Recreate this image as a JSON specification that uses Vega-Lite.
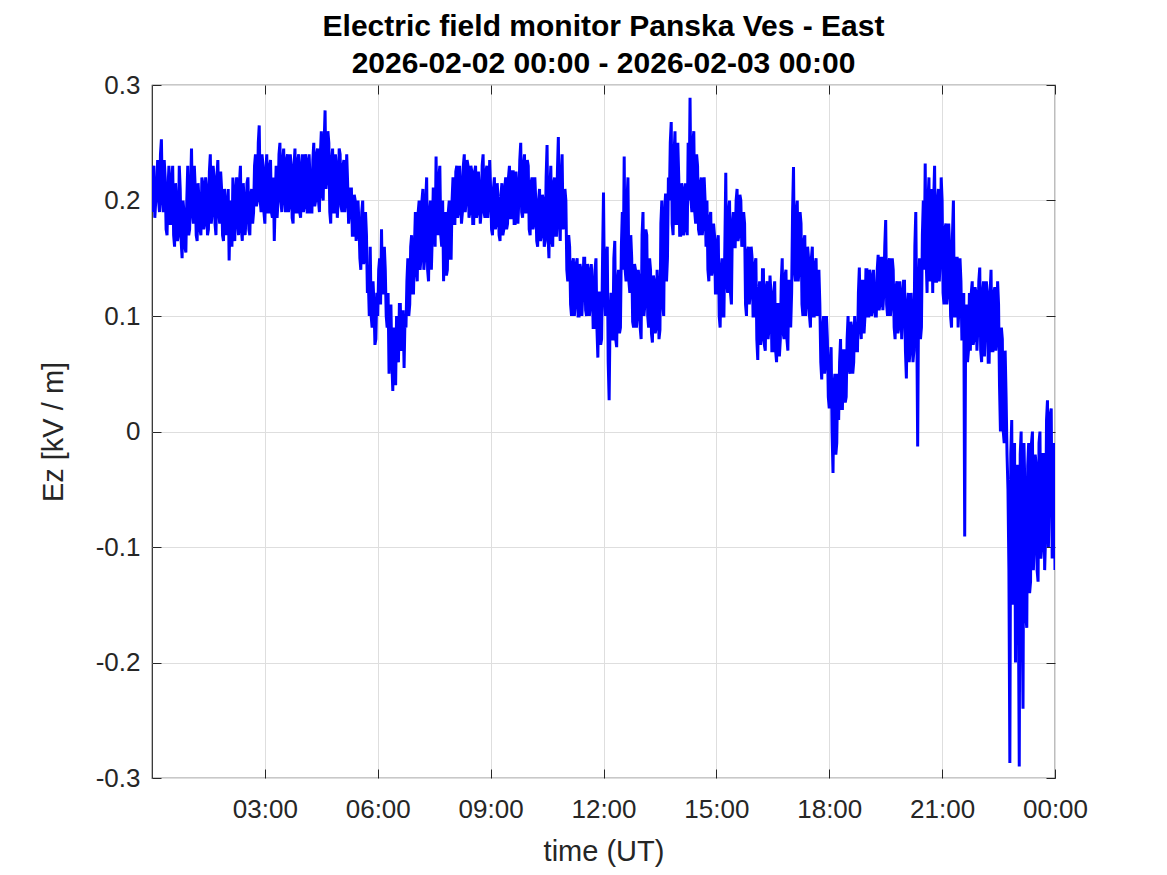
{
"$schema": "https://vega.github.io/schema/vega-lite/v6.json",
"width": 903,
"height": 693,
"autosize": {"type": "none"},
"padding": {"left": 152, "top": 85, "right": 112, "bottom": 97},
"background": "white",
"title": {"text": ["Electric field monitor Panska Ves - East", "2026-02-02 00:00 - 2026-02-03 00:00"], "font": "Liberation Sans", "fontSize": 30, "fontWeight": "bold", "color": "black", "anchor": "middle", "frame": "group", "lineHeight": 37, "offset": -7},
"config": {
  "view": {"stroke": "#262626", "strokeWidth": 1.2},
  "axis": {"domain": false, "grid": true, "gridColor": "#dedede", "gridWidth": 1, "tickColor": "#262626", "tickSize": -9, "tickWidth": 1, "labelFont": "Liberation Sans", "labelFontSize": 26, "labelColor": "#262626", "titleFont": "Liberation Sans", "titleFontSize": 29, "titleFontWeight": "normal", "titleColor": "#262626"}
},
"data": {"values": [
{"t":0,"v":0.19},{"t":0.025,"v":0.225},{"t":0.05,"v":0.23},{"t":0.075,"v":0.185},{"t":0.1,"v":0.2},{"t":0.125,"v":0.21},{"t":0.15,"v":0.235},{"t":0.175,"v":0.2},{"t":0.2,"v":0.19},{"t":0.225,"v":0.24},
{"t":0.25,"v":0.253},{"t":0.275,"v":0.2},{"t":0.3,"v":0.19},{"t":0.325,"v":0.235},{"t":0.35,"v":0.22},{"t":0.375,"v":0.175},{"t":0.4,"v":0.17},{"t":0.425,"v":0.21},{"t":0.45,"v":0.23},{"t":0.475,"v":0.18},
{"t":0.5,"v":0.18},{"t":0.525,"v":0.22},{"t":0.55,"v":0.23},{"t":0.575,"v":0.17},{"t":0.6,"v":0.16},{"t":0.625,"v":0.215},{"t":0.65,"v":0.2},{"t":0.675,"v":0.165},{"t":0.7,"v":0.17},{"t":0.725,"v":0.23},
{"t":0.75,"v":0.21},{"t":0.775,"v":0.165},{"t":0.8,"v":0.15},{"t":0.825,"v":0.2},{"t":0.85,"v":0.19},{"t":0.875,"v":0.16},{"t":0.9,"v":0.155},{"t":0.925,"v":0.2},{"t":0.95,"v":0.23},{"t":0.975,"v":0.17},
{"t":1,"v":0.175},{"t":1.025,"v":0.21},{"t":1.05,"v":0.245},{"t":1.075,"v":0.19},{"t":1.1,"v":0.18},{"t":1.125,"v":0.23},{"t":1.15,"v":0.21},{"t":1.175,"v":0.17},{"t":1.2,"v":0.165},{"t":1.225,"v":0.215},
{"t":1.25,"v":0.2},{"t":1.275,"v":0.175},{"t":1.3,"v":0.17},{"t":1.325,"v":0.22},{"t":1.35,"v":0.215},{"t":1.375,"v":0.175},{"t":1.4,"v":0.18},{"t":1.425,"v":0.22},{"t":1.45,"v":0.21},{"t":1.475,"v":0.17},
{"t":1.5,"v":0.175},{"t":1.525,"v":0.225},{"t":1.55,"v":0.24},{"t":1.575,"v":0.18},{"t":1.6,"v":0.19},{"t":1.625,"v":0.23},{"t":1.65,"v":0.22},{"t":1.675,"v":0.18},{"t":1.7,"v":0.17},{"t":1.725,"v":0.22},
{"t":1.75,"v":0.235},{"t":1.775,"v":0.19},{"t":1.8,"v":0.18},{"t":1.825,"v":0.225},{"t":1.85,"v":0.21},{"t":1.875,"v":0.17},{"t":1.9,"v":0.165},{"t":1.925,"v":0.21},{"t":1.95,"v":0.2},{"t":1.975,"v":0.17},
{"t":2,"v":0.18},{"t":2.025,"v":0.21},{"t":2.05,"v":0.148},{"t":2.075,"v":0.19},{"t":2.1,"v":0.2},{"t":2.125,"v":0.16},{"t":2.15,"v":0.22},{"t":2.175,"v":0.17},{"t":2.2,"v":0.165},{"t":2.225,"v":0.21},
{"t":2.25,"v":0.22},{"t":2.275,"v":0.18},{"t":2.3,"v":0.17},{"t":2.325,"v":0.215},{"t":2.35,"v":0.23},{"t":2.375,"v":0.175},{"t":2.4,"v":0.165},{"t":2.425,"v":0.215},{"t":2.45,"v":0.2},{"t":2.475,"v":0.17},
{"t":2.5,"v":0.185},{"t":2.525,"v":0.215},{"t":2.55,"v":0.22},{"t":2.575,"v":0.175},{"t":2.6,"v":0.17},{"t":2.625,"v":0.205},{"t":2.65,"v":0.21},{"t":2.675,"v":0.18},{"t":2.7,"v":0.19},{"t":2.725,"v":0.23},
{"t":2.75,"v":0.24},{"t":2.775,"v":0.195},{"t":2.8,"v":0.2},{"t":2.825,"v":0.25},{"t":2.85,"v":0.265},{"t":2.875,"v":0.2},{"t":2.9,"v":0.19},{"t":2.925,"v":0.24},{"t":2.95,"v":0.23},{"t":2.975,"v":0.19},
{"t":3,"v":0.18},{"t":3.025,"v":0.225},{"t":3.05,"v":0.24},{"t":3.075,"v":0.19},{"t":3.1,"v":0.19},{"t":3.125,"v":0.23},{"t":3.15,"v":0.235},{"t":3.175,"v":0.19},{"t":3.2,"v":0.185},{"t":3.225,"v":0.22},
{"t":3.25,"v":0.165},{"t":3.275,"v":0.2},{"t":3.3,"v":0.23},{"t":3.325,"v":0.185},{"t":3.35,"v":0.2},{"t":3.375,"v":0.24},{"t":3.4,"v":0.25},{"t":3.425,"v":0.2},{"t":3.45,"v":0.19},{"t":3.475,"v":0.235},
{"t":3.5,"v":0.245},{"t":3.525,"v":0.2},{"t":3.55,"v":0.19},{"t":3.575,"v":0.235},{"t":3.6,"v":0.24},{"t":3.625,"v":0.19},{"t":3.65,"v":0.195},{"t":3.675,"v":0.24},{"t":3.7,"v":0.23},{"t":3.725,"v":0.185},
{"t":3.75,"v":0.18},{"t":3.775,"v":0.23},{"t":3.8,"v":0.245},{"t":3.825,"v":0.19},{"t":3.85,"v":0.19},{"t":3.875,"v":0.235},{"t":3.9,"v":0.24},{"t":3.925,"v":0.19},{"t":3.95,"v":0.185},{"t":3.975,"v":0.23},
{"t":4,"v":0.24},{"t":4.025,"v":0.19},{"t":4.05,"v":0.195},{"t":4.075,"v":0.24},{"t":4.1,"v":0.235},{"t":4.125,"v":0.19},{"t":4.15,"v":0.19},{"t":4.175,"v":0.24},{"t":4.2,"v":0.22},{"t":4.225,"v":0.19},
{"t":4.25,"v":0.19},{"t":4.275,"v":0.235},{"t":4.3,"v":0.25},{"t":4.325,"v":0.195},{"t":4.35,"v":0.2},{"t":4.375,"v":0.24},{"t":4.4,"v":0.245},{"t":4.425,"v":0.2},{"t":4.45,"v":0.19},{"t":4.475,"v":0.24},
{"t":4.5,"v":0.26},{"t":4.525,"v":0.205},{"t":4.55,"v":0.2},{"t":4.575,"v":0.25},{"t":4.6,"v":0.278},{"t":4.625,"v":0.21},{"t":4.65,"v":0.22},{"t":4.675,"v":0.26},{"t":4.7,"v":0.25},{"t":4.725,"v":0.19},
{"t":4.75,"v":0.18},{"t":4.775,"v":0.235},{"t":4.8,"v":0.245},{"t":4.825,"v":0.19},{"t":4.85,"v":0.19},{"t":4.875,"v":0.24},{"t":4.9,"v":0.23},{"t":4.925,"v":0.185},{"t":4.95,"v":0.2},{"t":4.975,"v":0.245},
{"t":5,"v":0.24},{"t":5.025,"v":0.195},{"t":5.05,"v":0.19},{"t":5.075,"v":0.23},{"t":5.1,"v":0.235},{"t":5.125,"v":0.19},{"t":5.15,"v":0.2},{"t":5.175,"v":0.24},{"t":5.2,"v":0.215},{"t":5.225,"v":0.18},
{"t":5.25,"v":0.19},{"t":5.275,"v":0.21},{"t":5.3,"v":0.21},{"t":5.325,"v":0.17},{"t":5.35,"v":0.17},{"t":5.375,"v":0.205},{"t":5.4,"v":0.2},{"t":5.425,"v":0.165},{"t":5.45,"v":0.175},{"t":5.475,"v":0.2},
{"t":5.5,"v":0.18},{"t":5.525,"v":0.15},{"t":5.55,"v":0.14},{"t":5.575,"v":0.19},{"t":5.6,"v":0.2},{"t":5.625,"v":0.145},{"t":5.65,"v":0.15},{"t":5.675,"v":0.19},{"t":5.7,"v":0.17},{"t":5.725,"v":0.12},
{"t":5.75,"v":0.13},{"t":5.775,"v":0.1},{"t":5.8,"v":0.16},{"t":5.825,"v":0.1},{"t":5.85,"v":0.09},{"t":5.875,"v":0.13},{"t":5.9,"v":0.11},{"t":5.925,"v":0.075},{"t":5.95,"v":0.08},{"t":5.975,"v":0.12},
{"t":6,"v":0.1},{"t":6.025,"v":0.14},{"t":6.05,"v":0.15},{"t":6.075,"v":0.11},{"t":6.1,"v":0.175},{"t":6.125,"v":0.12},{"t":6.15,"v":0.12},{"t":6.175,"v":0.16},{"t":6.2,"v":0.14},{"t":6.225,"v":0.1},
{"t":6.25,"v":0.09},{"t":6.275,"v":0.12},{"t":6.3,"v":0.05},{"t":6.325,"v":0.1},{"t":6.35,"v":0.11},{"t":6.375,"v":0.06},{"t":6.4,"v":0.035},{"t":6.425,"v":0.09},{"t":6.45,"v":0.08},{"t":6.475,"v":0.04},
{"t":6.5,"v":0.1},{"t":6.525,"v":0.065},{"t":6.55,"v":0.06},{"t":6.575,"v":0.11},{"t":6.6,"v":0.11},{"t":6.625,"v":0.07},{"t":6.65,"v":0.075},{"t":6.675,"v":0.105},{"t":6.7,"v":0.055},{"t":6.725,"v":0.1},
{"t":6.75,"v":0.09},{"t":6.775,"v":0.13},{"t":6.8,"v":0.15},{"t":6.825,"v":0.1},{"t":6.85,"v":0.11},{"t":6.875,"v":0.16},{"t":6.9,"v":0.17},{"t":6.925,"v":0.12},{"t":6.95,"v":0.12},{"t":6.975,"v":0.16},
{"t":7,"v":0.19},{"t":7.025,"v":0.14},{"t":7.05,"v":0.13},{"t":7.075,"v":0.19},{"t":7.1,"v":0.2},{"t":7.125,"v":0.14},{"t":7.15,"v":0.15},{"t":7.175,"v":0.2},{"t":7.2,"v":0.21},{"t":7.225,"v":0.14},
{"t":7.25,"v":0.15},{"t":7.275,"v":0.2},{"t":7.3,"v":0.22},{"t":7.325,"v":0.14},{"t":7.35,"v":0.13},{"t":7.375,"v":0.19},{"t":7.4,"v":0.2},{"t":7.425,"v":0.14},{"t":7.45,"v":0.17},{"t":7.475,"v":0.21},
{"t":7.5,"v":0.21},{"t":7.525,"v":0.16},{"t":7.55,"v":0.238},{"t":7.575,"v":0.18},{"t":7.6,"v":0.17},{"t":7.625,"v":0.22},{"t":7.65,"v":0.23},{"t":7.675,"v":0.17},{"t":7.7,"v":0.16},{"t":7.725,"v":0.2},
{"t":7.75,"v":0.13},{"t":7.775,"v":0.18},{"t":7.8,"v":0.19},{"t":7.825,"v":0.135},{"t":7.85,"v":0.14},{"t":7.875,"v":0.19},{"t":7.9,"v":0.2},{"t":7.925,"v":0.15},{"t":7.95,"v":0.15},{"t":7.975,"v":0.2},
{"t":8,"v":0.22},{"t":8.025,"v":0.18},{"t":8.05,"v":0.18},{"t":8.075,"v":0.225},{"t":8.1,"v":0.23},{"t":8.125,"v":0.185},{"t":8.15,"v":0.19},{"t":8.175,"v":0.23},{"t":8.2,"v":0.215},{"t":8.225,"v":0.18},
{"t":8.25,"v":0.19},{"t":8.275,"v":0.23},{"t":8.3,"v":0.24},{"t":8.325,"v":0.19},{"t":8.35,"v":0.2},{"t":8.375,"v":0.235},{"t":8.4,"v":0.23},{"t":8.425,"v":0.185},{"t":8.45,"v":0.19},{"t":8.475,"v":0.23},
{"t":8.5,"v":0.225},{"t":8.525,"v":0.18},{"t":8.55,"v":0.18},{"t":8.575,"v":0.225},{"t":8.6,"v":0.23},{"t":8.625,"v":0.185},{"t":8.65,"v":0.19},{"t":8.675,"v":0.225},{"t":8.7,"v":0.21},{"t":8.725,"v":0.18},
{"t":8.75,"v":0.19},{"t":8.775,"v":0.23},{"t":8.8,"v":0.24},{"t":8.825,"v":0.19},{"t":8.85,"v":0.185},{"t":8.875,"v":0.225},{"t":8.9,"v":0.23},{"t":8.925,"v":0.185},{"t":8.95,"v":0.2},{"t":8.975,"v":0.235},
{"t":9,"v":0.21},{"t":9.025,"v":0.175},{"t":9.05,"v":0.17},{"t":9.075,"v":0.21},{"t":9.1,"v":0.22},{"t":9.125,"v":0.175},{"t":9.15,"v":0.18},{"t":9.175,"v":0.215},{"t":9.2,"v":0.2},{"t":9.225,"v":0.17},
{"t":9.25,"v":0.165},{"t":9.275,"v":0.205},{"t":9.3,"v":0.215},{"t":9.325,"v":0.17},{"t":9.35,"v":0.175},{"t":9.375,"v":0.21},{"t":9.4,"v":0.22},{"t":9.425,"v":0.175},{"t":9.45,"v":0.18},{"t":9.475,"v":0.22},
{"t":9.5,"v":0.23},{"t":9.525,"v":0.185},{"t":9.55,"v":0.185},{"t":9.575,"v":0.225},{"t":9.6,"v":0.225},{"t":9.625,"v":0.18},{"t":9.65,"v":0.18},{"t":9.675,"v":0.225},{"t":9.7,"v":0.21},{"t":9.725,"v":0.18},
{"t":9.75,"v":0.2},{"t":9.775,"v":0.235},{"t":9.8,"v":0.25},{"t":9.825,"v":0.19},{"t":9.85,"v":0.185},{"t":9.875,"v":0.23},{"t":9.9,"v":0.24},{"t":9.925,"v":0.19},{"t":9.95,"v":0.19},{"t":9.975,"v":0.235},
{"t":10,"v":0.23},{"t":10.025,"v":0.175},{"t":10.05,"v":0.17},{"t":10.075,"v":0.215},{"t":10.1,"v":0.22},{"t":10.125,"v":0.175},{"t":10.15,"v":0.18},{"t":10.175,"v":0.22},{"t":10.2,"v":0.2},{"t":10.225,"v":0.165},
{"t":10.25,"v":0.16},{"t":10.275,"v":0.2},{"t":10.3,"v":0.21},{"t":10.325,"v":0.165},{"t":10.35,"v":0.17},{"t":10.375,"v":0.205},{"t":10.4,"v":0.2},{"t":10.425,"v":0.16},{"t":10.45,"v":0.165},{"t":10.475,"v":0.22},
{"t":10.5,"v":0.248},{"t":10.525,"v":0.17},{"t":10.55,"v":0.15},{"t":10.575,"v":0.21},{"t":10.6,"v":0.23},{"t":10.625,"v":0.165},{"t":10.65,"v":0.16},{"t":10.675,"v":0.215},{"t":10.7,"v":0.22},{"t":10.725,"v":0.17},
{"t":10.75,"v":0.17},{"t":10.775,"v":0.225},{"t":10.8,"v":0.255},{"t":10.825,"v":0.18},{"t":10.85,"v":0.165},{"t":10.875,"v":0.22},{"t":10.9,"v":0.24},{"t":10.925,"v":0.175},{"t":10.95,"v":0.18},{"t":10.975,"v":0.21},
{"t":11,"v":0.2},{"t":11.025,"v":0.14},{"t":11.05,"v":0.13},{"t":11.075,"v":0.17},{"t":11.1,"v":0.16},{"t":11.125,"v":0.11},{"t":11.15,"v":0.1},{"t":11.175,"v":0.145},{"t":11.2,"v":0.15},{"t":11.225,"v":0.1},
{"t":11.25,"v":0.11},{"t":11.275,"v":0.145},{"t":11.3,"v":0.15},{"t":11.325,"v":0.1},{"t":11.35,"v":0.1},{"t":11.375,"v":0.145},{"t":11.4,"v":0.14},{"t":11.425,"v":0.1},{"t":11.45,"v":0.12},{"t":11.475,"v":0.15},
{"t":11.5,"v":0.15},{"t":11.525,"v":0.105},{"t":11.55,"v":0.1},{"t":11.575,"v":0.145},{"t":11.6,"v":0.14},{"t":11.625,"v":0.1},{"t":11.65,"v":0.11},{"t":11.675,"v":0.145},{"t":11.7,"v":0.13},{"t":11.725,"v":0.09},
{"t":11.75,"v":0.09},{"t":11.775,"v":0.14},{"t":11.8,"v":0.15},{"t":11.825,"v":0.09},{"t":11.85,"v":0.064},{"t":11.875,"v":0.12},{"t":11.9,"v":0.12},{"t":11.925,"v":0.075},{"t":11.95,"v":0.08},{"t":11.975,"v":0.15},
{"t":12,"v":0.207},{"t":12.025,"v":0.12},{"t":12.05,"v":0.1},{"t":12.075,"v":0.15},{"t":12.1,"v":0.16},{"t":12.125,"v":0.06},{"t":12.15,"v":0.027},{"t":12.175,"v":0.1},{"t":12.2,"v":0.12},{"t":12.225,"v":0.08},
{"t":12.25,"v":0.08},{"t":12.275,"v":0.15},{"t":12.3,"v":0.165},{"t":12.325,"v":0.08},{"t":12.35,"v":0.073},{"t":12.375,"v":0.13},{"t":12.4,"v":0.14},{"t":12.425,"v":0.085},{"t":12.45,"v":0.09},{"t":12.475,"v":0.16},
{"t":12.5,"v":0.19},{"t":12.525,"v":0.14},{"t":12.55,"v":0.238},{"t":12.575,"v":0.14},{"t":12.6,"v":0.13},{"t":12.625,"v":0.2},{"t":12.65,"v":0.22},{"t":12.675,"v":0.13},{"t":12.7,"v":0.12},{"t":12.725,"v":0.17},
{"t":12.75,"v":0.15},{"t":12.775,"v":0.095},{"t":12.8,"v":0.09},{"t":12.825,"v":0.145},{"t":12.85,"v":0.14},{"t":12.875,"v":0.09},{"t":12.9,"v":0.1},{"t":12.925,"v":0.14},{"t":12.95,"v":0.13},{"t":12.975,"v":0.09},
{"t":13,"v":0.08},{"t":13.025,"v":0.17},{"t":13.05,"v":0.19},{"t":13.075,"v":0.1},{"t":13.1,"v":0.11},{"t":13.125,"v":0.175},{"t":13.15,"v":0.17},{"t":13.175,"v":0.1},{"t":13.2,"v":0.09},{"t":13.225,"v":0.15},
{"t":13.25,"v":0.14},{"t":13.275,"v":0.085},{"t":13.3,"v":0.077},{"t":13.325,"v":0.135},{"t":13.35,"v":0.13},{"t":13.375,"v":0.085},{"t":13.4,"v":0.09},{"t":13.425,"v":0.14},{"t":13.45,"v":0.12},{"t":13.475,"v":0.08},
{"t":13.5,"v":0.088},{"t":13.525,"v":0.18},{"t":13.55,"v":0.2},{"t":13.575,"v":0.11},{"t":13.6,"v":0.1},{"t":13.625,"v":0.19},{"t":13.65,"v":0.206},{"t":13.675,"v":0.13},{"t":13.7,"v":0.15},{"t":13.725,"v":0.22},
{"t":13.75,"v":0.2},{"t":13.775,"v":0.25},{"t":13.8,"v":0.268},{"t":13.825,"v":0.18},{"t":13.85,"v":0.17},{"t":13.875,"v":0.24},{"t":13.9,"v":0.26},{"t":13.925,"v":0.18},{"t":13.95,"v":0.18},{"t":13.975,"v":0.25},
{"t":14,"v":0.22},{"t":14.025,"v":0.17},{"t":14.05,"v":0.17},{"t":14.075,"v":0.215},{"t":14.1,"v":0.21},{"t":14.125,"v":0.17},{"t":14.15,"v":0.175},{"t":14.175,"v":0.215},{"t":14.2,"v":0.2},{"t":14.225,"v":0.17},
{"t":14.25,"v":0.25},{"t":14.275,"v":0.2},{"t":14.3,"v":0.289},{"t":14.325,"v":0.2},{"t":14.35,"v":0.19},{"t":14.375,"v":0.25},{"t":14.4,"v":0.26},{"t":14.425,"v":0.19},{"t":14.45,"v":0.18},{"t":14.475,"v":0.24},
{"t":14.5,"v":0.23},{"t":14.525,"v":0.175},{"t":14.55,"v":0.17},{"t":14.575,"v":0.215},{"t":14.6,"v":0.22},{"t":14.625,"v":0.17},{"t":14.65,"v":0.18},{"t":14.675,"v":0.22},{"t":14.7,"v":0.2},{"t":14.725,"v":0.16},
{"t":14.75,"v":0.2},{"t":14.775,"v":0.14},{"t":14.8,"v":0.13},{"t":14.825,"v":0.185},{"t":14.85,"v":0.19},{"t":14.875,"v":0.135},{"t":14.9,"v":0.14},{"t":14.925,"v":0.18},{"t":14.95,"v":0.17},{"t":14.975,"v":0.12},
{"t":15,"v":0.12},{"t":15.025,"v":0.165},{"t":15.05,"v":0.17},{"t":15.075,"v":0.1},{"t":15.1,"v":0.09},{"t":15.125,"v":0.14},{"t":15.15,"v":0.15},{"t":15.175,"v":0.1},{"t":15.2,"v":0.1},{"t":15.225,"v":0.16},
{"t":15.25,"v":0.224},{"t":15.275,"v":0.13},{"t":15.3,"v":0.12},{"t":15.325,"v":0.19},{"t":15.35,"v":0.2},{"t":15.375,"v":0.12},{"t":15.4,"v":0.11},{"t":15.425,"v":0.18},{"t":15.45,"v":0.19},{"t":15.475,"v":0.16},
{"t":15.5,"v":0.16},{"t":15.525,"v":0.2},{"t":15.55,"v":0.21},{"t":15.575,"v":0.165},{"t":15.6,"v":0.17},{"t":15.625,"v":0.205},{"t":15.65,"v":0.2},{"t":15.675,"v":0.16},{"t":15.7,"v":0.165},{"t":15.725,"v":0.19},
{"t":15.75,"v":0.18},{"t":15.775,"v":0.11},{"t":15.8,"v":0.1},{"t":15.825,"v":0.155},{"t":15.85,"v":0.16},{"t":15.875,"v":0.11},{"t":15.9,"v":0.12},{"t":15.925,"v":0.16},{"t":15.95,"v":0.15},{"t":15.975,"v":0.1},
{"t":16,"v":0.1},{"t":16.025,"v":0.145},{"t":16.05,"v":0.15},{"t":16.075,"v":0.08},{"t":16.1,"v":0.062},{"t":16.125,"v":0.12},{"t":16.15,"v":0.13},{"t":16.175,"v":0.075},{"t":16.2,"v":0.08},{"t":16.225,"v":0.14},
{"t":16.25,"v":0.14},{"t":16.275,"v":0.075},{"t":16.3,"v":0.07},{"t":16.325,"v":0.125},{"t":16.35,"v":0.13},{"t":16.375,"v":0.08},{"t":16.4,"v":0.09},{"t":16.425,"v":0.135},{"t":16.45,"v":0.12},{"t":16.475,"v":0.07},
{"t":16.5,"v":0.07},{"t":16.525,"v":0.12},{"t":16.55,"v":0.13},{"t":16.575,"v":0.07},{"t":16.6,"v":0.06},{"t":16.625,"v":0.11},{"t":16.65,"v":0.11},{"t":16.675,"v":0.065},{"t":16.7,"v":0.08},{"t":16.725,"v":0.13},
{"t":16.75,"v":0.15},{"t":16.775,"v":0.085},{"t":16.8,"v":0.08},{"t":16.825,"v":0.135},{"t":16.85,"v":0.14},{"t":16.875,"v":0.08},{"t":16.9,"v":0.07},{"t":16.925,"v":0.13},{"t":16.95,"v":0.13},{"t":16.975,"v":0.09},
{"t":17,"v":0.12},{"t":17.025,"v":0.19},{"t":17.05,"v":0.229},{"t":17.075,"v":0.14},{"t":17.1,"v":0.13},{"t":17.125,"v":0.19},{"t":17.15,"v":0.2},{"t":17.175,"v":0.13},{"t":17.2,"v":0.14},{"t":17.225,"v":0.19},
{"t":17.25,"v":0.18},{"t":17.275,"v":0.11},{"t":17.3,"v":0.1},{"t":17.325,"v":0.165},{"t":17.35,"v":0.17},{"t":17.375,"v":0.1},{"t":17.4,"v":0.11},{"t":17.425,"v":0.16},{"t":17.45,"v":0.15},{"t":17.475,"v":0.1},
{"t":17.5,"v":0.09},{"t":17.525,"v":0.15},{"t":17.55,"v":0.16},{"t":17.575,"v":0.1},{"t":17.6,"v":0.1},{"t":17.625,"v":0.145},{"t":17.65,"v":0.15},{"t":17.675,"v":0.1},{"t":17.7,"v":0.11},{"t":17.725,"v":0.14},
{"t":17.75,"v":0.11},{"t":17.775,"v":0.06},{"t":17.8,"v":0.045},{"t":17.825,"v":0.09},{"t":17.85,"v":0.1},{"t":17.875,"v":0.05},{"t":17.9,"v":0.06},{"t":17.925,"v":0.1},{"t":17.95,"v":0.08},{"t":17.975,"v":0.03},
{"t":18,"v":0.02},{"t":18.025,"v":0.06},{"t":18.05,"v":0.073},{"t":18.075,"v":0},{"t":18.1,"v":-0.036},{"t":18.125,"v":0.04},{"t":18.15,"v":0.05},{"t":18.175,"v":-0.02},{"t":18.2,"v":-0.01},{"t":18.225,"v":0.05},
{"t":18.25,"v":0.01},{"t":18.275,"v":0.06},{"t":18.3,"v":0.08},{"t":18.325,"v":0.02},{"t":18.35,"v":0.02},{"t":18.375,"v":0.07},{"t":18.4,"v":0.07},{"t":18.425,"v":0.025},{"t":18.45,"v":0.03},{"t":18.475,"v":0.08},
{"t":18.5,"v":0.1},{"t":18.525,"v":0.055},{"t":18.55,"v":0.05},{"t":18.575,"v":0.095},{"t":18.6,"v":0.09},{"t":18.625,"v":0.05},{"t":18.65,"v":0.06},{"t":18.675,"v":0.1},{"t":18.7,"v":0.08},{"t":18.725,"v":0.07},
{"t":18.75,"v":0.07},{"t":18.775,"v":0.12},{"t":18.8,"v":0.142},{"t":18.825,"v":0.09},{"t":18.85,"v":0.08},{"t":18.875,"v":0.13},{"t":18.9,"v":0.13},{"t":18.925,"v":0.085},{"t":18.95,"v":0.1},{"t":18.975,"v":0.14},
{"t":19,"v":0.14},{"t":19.025,"v":0.1},{"t":19.05,"v":0.1},{"t":19.075,"v":0.14},{"t":19.1,"v":0.135},{"t":19.125,"v":0.1},{"t":19.15,"v":0.105},{"t":19.175,"v":0.14},{"t":19.2,"v":0.12},{"t":19.225,"v":0.1},
{"t":19.25,"v":0.1},{"t":19.275,"v":0.14},{"t":19.3,"v":0.153},{"t":19.325,"v":0.105},{"t":19.35,"v":0.11},{"t":19.375,"v":0.15},{"t":19.4,"v":0.15},{"t":19.425,"v":0.105},{"t":19.45,"v":0.12},{"t":19.475,"v":0.16},
{"t":19.5,"v":0.183},{"t":19.525,"v":0.11},{"t":19.55,"v":0.1},{"t":19.575,"v":0.145},{"t":19.6,"v":0.15},{"t":19.625,"v":0.1},{"t":19.65,"v":0.11},{"t":19.675,"v":0.15},{"t":19.7,"v":0.14},{"t":19.725,"v":0.09},
{"t":19.75,"v":0.08},{"t":19.775,"v":0.125},{"t":19.8,"v":0.13},{"t":19.825,"v":0.085},{"t":19.85,"v":0.09},{"t":19.875,"v":0.13},{"t":19.9,"v":0.12},{"t":19.925,"v":0.08},{"t":19.95,"v":0.1},{"t":19.975,"v":0.13},
{"t":20,"v":0.13},{"t":20.025,"v":0.07},{"t":20.05,"v":0.046},{"t":20.075,"v":0.11},{"t":20.1,"v":0.12},{"t":20.125,"v":0.06},{"t":20.15,"v":0.07},{"t":20.175,"v":0.12},{"t":20.2,"v":0.1},{"t":20.225,"v":0.06},
{"t":20.25,"v":0.07},{"t":20.275,"v":0.16},{"t":20.3,"v":0.19},{"t":20.325,"v":0.1},{"t":20.35,"v":-0.013},{"t":20.375,"v":0.12},{"t":20.4,"v":0.15},{"t":20.425,"v":0.08},{"t":20.45,"v":0.09},{"t":20.475,"v":0.17},
{"t":20.5,"v":0.2},{"t":20.525,"v":0.14},{"t":20.55,"v":0.232},{"t":20.575,"v":0.15},{"t":20.6,"v":0.12},{"t":20.625,"v":0.2},{"t":20.65,"v":0.22},{"t":20.675,"v":0.13},{"t":20.7,"v":0.14},{"t":20.725,"v":0.21},
{"t":20.75,"v":0.12},{"t":20.775,"v":0.2},{"t":20.8,"v":0.23},{"t":20.825,"v":0.13},{"t":20.85,"v":0.13},{"t":20.875,"v":0.2},{"t":20.9,"v":0.21},{"t":20.925,"v":0.13},{"t":20.95,"v":0.15},{"t":20.975,"v":0.22},
{"t":21,"v":0.2},{"t":21.025,"v":0.12},{"t":21.05,"v":0.11},{"t":21.075,"v":0.175},{"t":21.1,"v":0.18},{"t":21.125,"v":0.11},{"t":21.15,"v":0.12},{"t":21.175,"v":0.18},{"t":21.2,"v":0.16},{"t":21.225,"v":0.1},
{"t":21.25,"v":0.09},{"t":21.275,"v":0.17},{"t":21.3,"v":0.2},{"t":21.325,"v":0.1},{"t":21.35,"v":0.1},{"t":21.375,"v":0.15},{"t":21.4,"v":0.15},{"t":21.425,"v":0.09},{"t":21.45,"v":0.11},{"t":21.475,"v":0.15},
{"t":21.5,"v":0.13},{"t":21.525,"v":0.08},{"t":21.55,"v":0.08},{"t":21.575,"v":0.12},{"t":21.6,"v":-0.091},{"t":21.625,"v":0.09},{"t":21.65,"v":0.11},{"t":21.675,"v":0.06},{"t":21.7,"v":0.07},{"t":21.725,"v":0.12},
{"t":21.75,"v":0.07},{"t":21.775,"v":0.12},{"t":21.8,"v":0.13},{"t":21.825,"v":0.075},{"t":21.85,"v":0.08},{"t":21.875,"v":0.125},{"t":21.9,"v":0.12},{"t":21.925,"v":0.07},{"t":21.95,"v":0.09},{"t":21.975,"v":0.13},
{"t":22,"v":0.142},{"t":22.025,"v":0.07},{"t":22.05,"v":0.06},{"t":22.075,"v":0.12},{"t":22.1,"v":0.13},{"t":22.125,"v":0.065},{"t":22.15,"v":0.09},{"t":22.175,"v":0.13},{"t":22.2,"v":0.12},{"t":22.225,"v":0.06},
{"t":22.25,"v":0.06},{"t":22.275,"v":0.12},{"t":22.3,"v":0.14},{"t":22.325,"v":0.07},{"t":22.35,"v":0.07},{"t":22.375,"v":0.12},{"t":22.4,"v":0.125},{"t":22.425,"v":0.07},{"t":22.45,"v":0.08},{"t":22.475,"v":0.13},
{"t":22.5,"v":0.11},{"t":22.525,"v":0.04},{"t":22.55,"v":0},{"t":22.575,"v":0.09},{"t":22.6,"v":0.08},{"t":22.625,"v":0},{"t":22.65,"v":-0.01},{"t":22.675,"v":0.07},{"t":22.7,"v":0.03},{"t":22.725,"v":-0.02},
{"t":22.75,"v":-0.05},{"t":22.775,"v":-0.12},{"t":22.8,"v":-0.287},{"t":22.825,"v":-0.02},{"t":22.85,"v":0.01},{"t":22.875,"v":-0.15},{"t":22.9,"v":-0.1},{"t":22.925,"v":-0.01},{"t":22.95,"v":-0.2},{"t":22.975,"v":-0.03},
{"t":23,"v":-0.03},{"t":23.025,"v":-0.14},{"t":23.05,"v":-0.29},{"t":23.075,"v":-0.02},{"t":23.1,"v":0},{"t":23.125,"v":-0.15},{"t":23.15,"v":-0.24},{"t":23.175,"v":-0.01},{"t":23.2,"v":-0.05},{"t":23.225,"v":-0.16},
{"t":23.25,"v":-0.17},{"t":23.275,"v":-0.03},{"t":23.3,"v":-0.01},{"t":23.325,"v":-0.14},{"t":23.35,"v":-0.13},{"t":23.375,"v":-0.01},{"t":23.4,"v":0},{"t":23.425,"v":-0.12},{"t":23.45,"v":-0.1},{"t":23.475,"v":-0.02},
{"t":23.5,"v":-0.03},{"t":23.525,"v":-0.12},{"t":23.55,"v":-0.13},{"t":23.575,"v":-0.01},{"t":23.6,"v":0},{"t":23.625,"v":-0.11},{"t":23.65,"v":-0.1},{"t":23.675,"v":-0.02},{"t":23.7,"v":-0.02},{"t":23.725,"v":-0.12},
{"t":23.75,"v":-0.09},{"t":23.775,"v":0.01},{"t":23.8,"v":0.027},{"t":23.825,"v":-0.1},{"t":23.85,"v":-0.05},{"t":23.875,"v":0.015},{"t":23.9,"v":0.02},{"t":23.925,"v":-0.11},{"t":23.95,"v":-0.08},{"t":23.975,"v":-0.01},
{"t":24,"v":-0.12}
]},
"layer": [
  {
    "mark": {"type": "line", "color": "#0000ff", "strokeWidth": 3, "clip": true},
    "encoding": {
      "x": {"field": "t", "type": "quantitative", "scale": {"domain": [0, 24], "nice": false, "zero": false},
            "axis": {"orient": "bottom", "values": [3, 6, 9, 12, 15, 18, 21, 24], "labelExpr": "(datum.value % 24 < 10 ? '0' : '') + (datum.value % 24) + ':00'", "labelFlush": false, "title": "time (UT)", "labelPadding": 27, "titlePadding": 15}},
      "y": {"field": "v", "type": "quantitative", "scale": {"domain": [-0.3, 0.3], "nice": false, "zero": false},
            "axis": {"orient": "left", "values": [-0.3, -0.2, -0.1, 0, 0.1, 0.2, 0.3], "labelExpr": "datum.value == 0 ? '0' : (datum.value < 0 ? '-' : '') + format(abs(datum.value), '.1f')", "title": "Ez [kV / m]", "labelPadding": 21, "titlePadding": 27}}
    }
  },
  {
    "mark": {"type": "line", "opacity": 0},
    "encoding": {
      "x": {"field": "t", "type": "quantitative", "scale": {"domain": [0, 24], "nice": false, "zero": false},
            "axis": {"orient": "top", "values": [3, 6, 9, 12, 15, 18, 21, 24], "labels": false, "title": null, "grid": false}},
      "y": {"field": "v", "type": "quantitative", "scale": {"domain": [-0.3, 0.3], "nice": false, "zero": false},
            "axis": {"orient": "right", "values": [-0.3, -0.2, -0.1, 0, 0.1, 0.2, 0.3], "labels": false, "title": null, "grid": false}}
    }
  }
],
"resolve": {"axis": {"x": "independent", "y": "independent"}}
}
